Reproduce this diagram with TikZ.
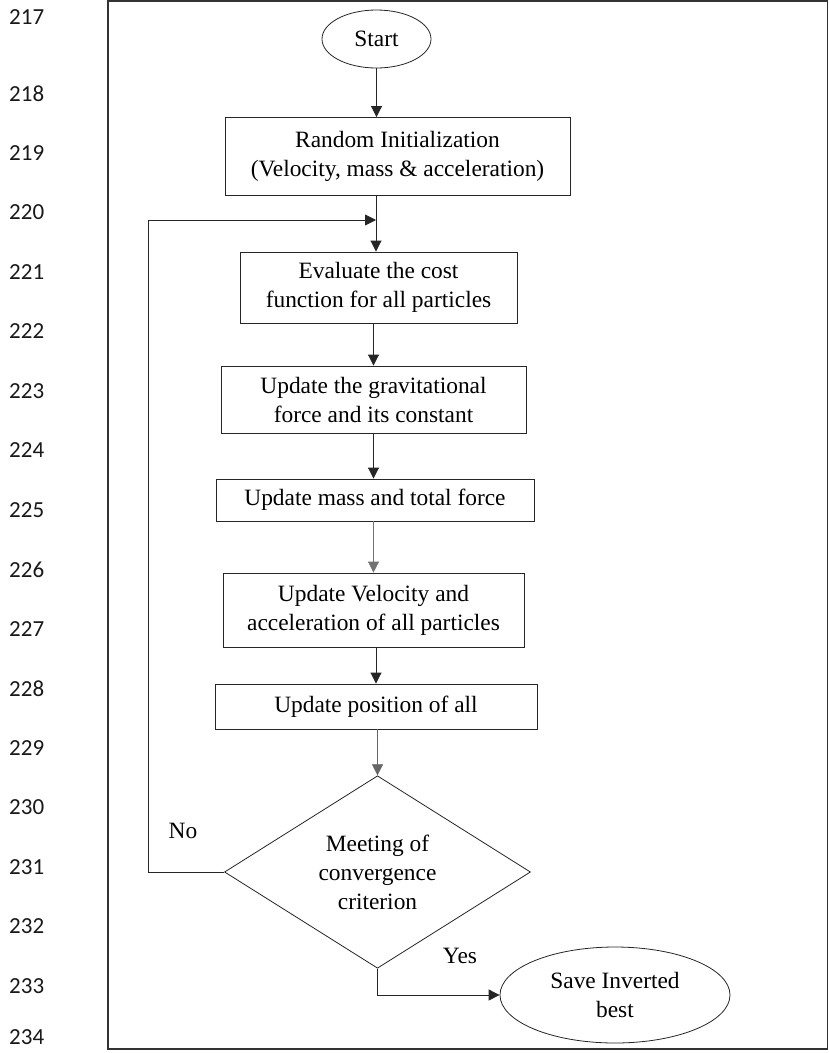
\documentclass[tikz,border=0pt]{standalone}
\usepackage{fontspec}
\setmainfont{Liberation Serif}
\newfontfamily\lnfont{Carlito}
\usetikzlibrary{shapes.geometric,arrows.meta}
\newcommand\figfont{\fontsize{23.4}{29}\selectfont}
\begin{document}
\begin{tikzpicture}[x=1pt,y=-1pt,
  box/.style={draw=black!85,line width=0.9pt,rectangle,inner sep=0pt,align=center,font=\figfont},
  oval/.style={draw=black!85,line width=0.8pt,ellipse,inner sep=0pt,align=center,font=\figfont},
  dec/.style={draw=black!85,line width=0.8pt,diamond,inner sep=0pt,align=center,font=\figfont},
  arr/.style={draw=black!85,line width=0.9pt,-{Triangle[length=11pt,width=11pt]}},
  lbl/.style={font=\figfont,inner sep=0pt},
  lnum/.style={font=\lnfont\fontsize{23}{27}\selectfont,anchor=west,inner sep=0pt,text=black!90}]
\useasboundingbox (0,0) rectangle (828,1053);
\fill[white] (0,0) rectangle (828,1053);
% frame
\draw[line width=1.8pt,black!80] (108,1) rectangle (827.5,1049);
% line numbers
\node[lnum] (ln217) at (9,17.5) {217};
\foreach \n [count=\k from 0] in {218,219,220,221,222,223,224,225,226,227,228,229,230,231,232,233}
  \node[lnum] (ln\n) at (9,93.5+59.5*\k) {\n};
\node[lnum] (ln234) at (9,1037) {234};
% nodes
\node[oval,minimum width=109pt,minimum height=58pt] (start) at (376.5,39) {Start};
\node[box,minimum width=345pt,minimum height=78pt] (rand) at (397.5,156.5) {Random Initialization\\ (Velocity, mass \& acceleration)};
\node[box,minimum width=277pt,minimum height=71pt] (eval) at (378.5,287.5) {Evaluate the cost\\function for all particles};
\node[box,minimum width=305pt,minimum height=67pt] (grav) at (373.5,399.5) {Update the gravitational\\force and its constant};
\node[box,minimum width=318pt,minimum height=42pt] (mass) at (375,500) {Update mass and total force};
\node[box,minimum width=301pt,minimum height=74pt] (vel) at (373.5,610) {Update Velocity and\\acceleration of all particles};
\node[box,minimum width=322pt,minimum height=45pt] (pos) at (376,706.5) {Update position of all};
\node[dec,minimum width=306pt,minimum height=192pt] (dia) at (377.5,872) {Meeting of\\convergence\\criterion};
\node[oval,minimum width=230pt,minimum height=96pt] (save) at (615,995) {Save Inverted\\best};
\node[lbl] (no) at (183,831) {No};
\node[lbl] (yes) at (460,956) {Yes};
\coordinate (loopc) at (148,220);
\coordinate (junc) at (376,220);
% connectors
\draw[arr] (start.south) -- (start.south |- rand.north);
\draw[arr] (junc |- rand.south) -- (junc |- eval.north);
\draw[arr] (dia.west) -- (dia.west -| loopc) -- (loopc) -- (junc);
\draw[arr] (eval.south -| grav.north) -- (grav.north);
\draw[arr] (grav.south) -- (grav.south |- mass.north);
\draw[arr,draw=black!55] (mass.south -| vel.north) -- (vel.north);
\draw[arr] (vel.south -| pos.north) -- (pos.north);
\draw[arr,draw=black!60,line width=0.6pt] (pos.south -| dia.north) -- (dia.north);
\draw[arr] (dia.south) -- (dia.south |- save.west) -- (save.west);
\end{tikzpicture}
\end{document}
